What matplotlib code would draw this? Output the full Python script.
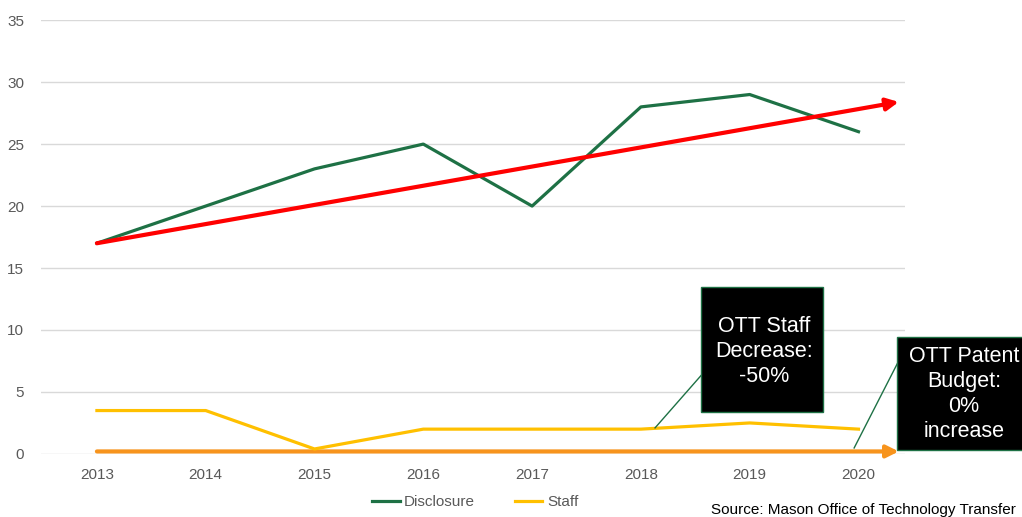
import numpy as np
import matplotlib.pyplot as plt
from matplotlib.patches import Rectangle

plt.rcParams['font.family'] = ['Liberation Sans', 'DejaVu Sans']

# data
years = ["2013", "2014", "2015", "2016", "2017", "2018", "2019", "2020"]
disclosure = [17, 20, 23, 25, 20, 28, 29, 26]
staff = [3.5, 3.5, 0.4, 2, 2, 2, 2.5, 2]

# trend arrows (start and tip, in data units)
trend_start = (0, 17)
trend_end = (7.37, 28.4)
budget_start = (0, 0.2)
budget_end = (7.37, 0.2)

staff_note = "OTT Staff\nDecrease:\n-50%"
budget_note = "OTT Patent\nBudget:\n0%\nincrease"
source = "Source: Mason Office of Technology Transfer"

fig = plt.figure(figsize=(10.22, 5.17), dpi=100)
ax = fig.add_axes([0.040, 0.122, 0.846, 0.839])

x = np.arange(len(years))
ax.plot(x, disclosure, color="#1E7145", lw=2.3, label="Disclosure", zorder=3)
ax.plot(x, staff, color="#FFC000", lw=2.3, label="Staff", zorder=3)

ax.annotate("", xy=trend_end, xytext=trend_start,
            arrowprops=dict(arrowstyle="-|>", color="#FF0000", lw=3, mutation_scale=18,
                            shrinkA=0, shrinkB=0), zorder=4, annotation_clip=False)
ax.annotate("", xy=budget_end, xytext=budget_start,
            arrowprops=dict(arrowstyle="-|>", color="#F7941D", lw=3, mutation_scale=18,
                            shrinkA=0, shrinkB=0), zorder=2, annotation_clip=False)

ax.set_xlim(-0.515, 7.432)
ax.set_ylim(0, 35)
ax.set_yticks(range(0, 36, 5))
ax.set_xticks(x)
ax.set_xticklabels(years)
ax.grid(axis="y", color="#D9D9D9", lw=1)
ax.set_axisbelow(True)
for s in ax.spines.values():
    s.set_visible(False)
ax.tick_params(length=0, labelsize=11, colors="#595959", pad=10)
ax.tick_params(axis="y", pad=12)

# callout boxes
ax.plot([5.13, 5.557], [2.1, 6.37], color="#1E7145", lw=1, clip_on=False, zorder=5)
ax.plot([6.96, 7.41], [0.48, 8.2], color="#1E7145", lw=1, clip_on=False, zorder=5)
ax.add_patch(Rectangle((5.557, 3.39), 1.113, 10.08, facecolor="black",
                       edgecolor="#1E7145", lw=1, clip_on=False, zorder=6))
ax.add_patch(Rectangle((7.35, 0.32), 1.3, 9.12, facecolor="black",
                       edgecolor="#1E7145", lw=1, clip_on=False, zorder=6))
ax.text(6.13, 8.25, staff_note, color="white", fontsize=15.5, ha="center", va="center",
        linespacing=1.25, zorder=7, clip_on=False)
ax.text(7.97, 4.84, budget_note, color="white", fontsize=15.5, ha="center", va="center",
        linespacing=1.25, zorder=7, clip_on=False)

fig.legend(loc="center", bbox_to_anchor=(0.465, 0.029), ncol=2, frameon=False,
           fontsize=11, handlelength=1.8, handletextpad=0.3, columnspacing=2.6,
           labelcolor="#595959")
fig.text(711 / 1022, 0.014, source, fontsize=11, va="center", ha="left", color="black")

fig.savefig("out.png", dpi=100)
